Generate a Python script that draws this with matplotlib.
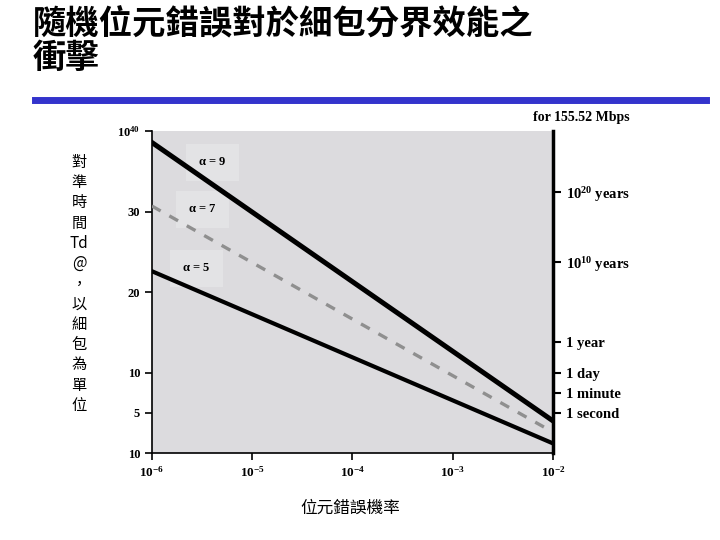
import matplotlib
matplotlib.use("Agg")
import matplotlib.pyplot as plt
import numpy as np

ber = [1e-6, 1e-2]
alpha9 = [38.6, 4.0]
alpha7 = [30.7, 2.6]
alpha5 = [22.6, 1.2]
left_ticks = [40, 30, 20, 10, 5, 0]
left_labels = ["$10^{40}$", "30", "20", "10", "5", "10"]
right_ticks = [32.4, 23.7, 13.8, 9.9, 7.45, 5.0]
right_labels = ["$10^{20}$ years", "$10^{10}$ years", "1 year", "1 day", "1 minute", "1 second"]
x_ticks = [1e-6, 1e-5, 1e-4, 1e-3, 1e-2]
x_labels = ["$10^{-6}$", "$10^{-5}$", "$10^{-4}$", "$10^{-3}$", "$10^{-2}$"]

plt.rcParams['mathtext.fontset'] = 'custom'
plt.rcParams['mathtext.rm'] = 'Liberation Serif:bold'
plt.rcParams['mathtext.it'] = 'Liberation Serif:bold'
serif = dict(family='Liberation Serif', weight='bold')
cjk = ['Noto Sans CJK TC', 'DejaVu Sans']

fig = plt.figure(figsize=(7.2, 5.4), dpi=100)
ax = fig.add_axes([0.211, 0.161, 0.557, 0.596])
ax.set_facecolor('#dcdbde')
ax.set_xscale('log')
ax.set_xlim(1e-6, 1e-2)
ax.set_ylim(0, 40)
ax.plot(ber, alpha9, color='black', lw=3.6, zorder=3)
ax.plot(ber, alpha7, color='#8f8f8f', lw=2.4, dashes=(3, 3), zorder=3)
ax.plot(ber, alpha5, color='black', lw=3.0, zorder=3)
ax.set_xticks(x_ticks)
ax.set_xticklabels(x_labels, fontsize=9.5, **serif)
ax.minorticks_off()
ax.set_yticks(left_ticks)
ax.set_yticklabels(left_labels, fontsize=9, **serif)
ax.tick_params(direction='out', length=5, width=1.2)
ax.spines['top'].set_visible(False)
ax.spines['right'].set_visible(False)
ax.spines['left'].set_linewidth(1.2)
ax.spines['bottom'].set_linewidth(1.2)

ax2 = ax.twinx()
ax2.set_ylim(0, 40)
ax2.set_yticks(right_ticks)
ax2.set_yticklabels(right_labels, fontsize=10.5, **serif)
ax2.tick_params(direction='out', length=6, width=1.5)
for s in ['top', 'left', 'bottom']:
    ax2.spines[s].set_visible(False)
ax2.spines['right'].set_linewidth(2.5)

for (x, y, t) in [(2.9e-6, 35.8, r"$\alpha$ = 9"), (2.3e-6, 29.9, r"$\alpha$ = 7"), (2.0e-6, 22.6, r"$\alpha$ = 5")]:
    ax.text(x, y, t, fontsize=9, family='Liberation Serif', weight='bold', zorder=2,
            bbox=dict(facecolor='#e3e3e5', edgecolor='none', pad=9))

fig.text(0.74, 0.775, "for 155.52 Mbps", fontsize=10, **serif)
fig.text(0.045, 0.985, "隨機位元錯誤對於細包分界效能之\n衝擊", fontsize=24, weight='bold',
         family=cjk, va='top', linespacing=1.05)
fig.add_artist(plt.Line2D([0.048, 0.98], [0.815, 0.815], color='#3333cc', lw=5))
ylab = "對\n準\n時\n間\nTd\n@\n，\n以\n細\n包\n為\n單\n位"
fig.text(0.11, 0.715, ylab, fontsize=11, family=cjk, va='top', ha='center', linespacing=1.25)
fig.text(0.486, 0.05, "位元錯誤機率", fontsize=12, family=cjk, ha='center')

fig.savefig("out.png", dpi=100)
